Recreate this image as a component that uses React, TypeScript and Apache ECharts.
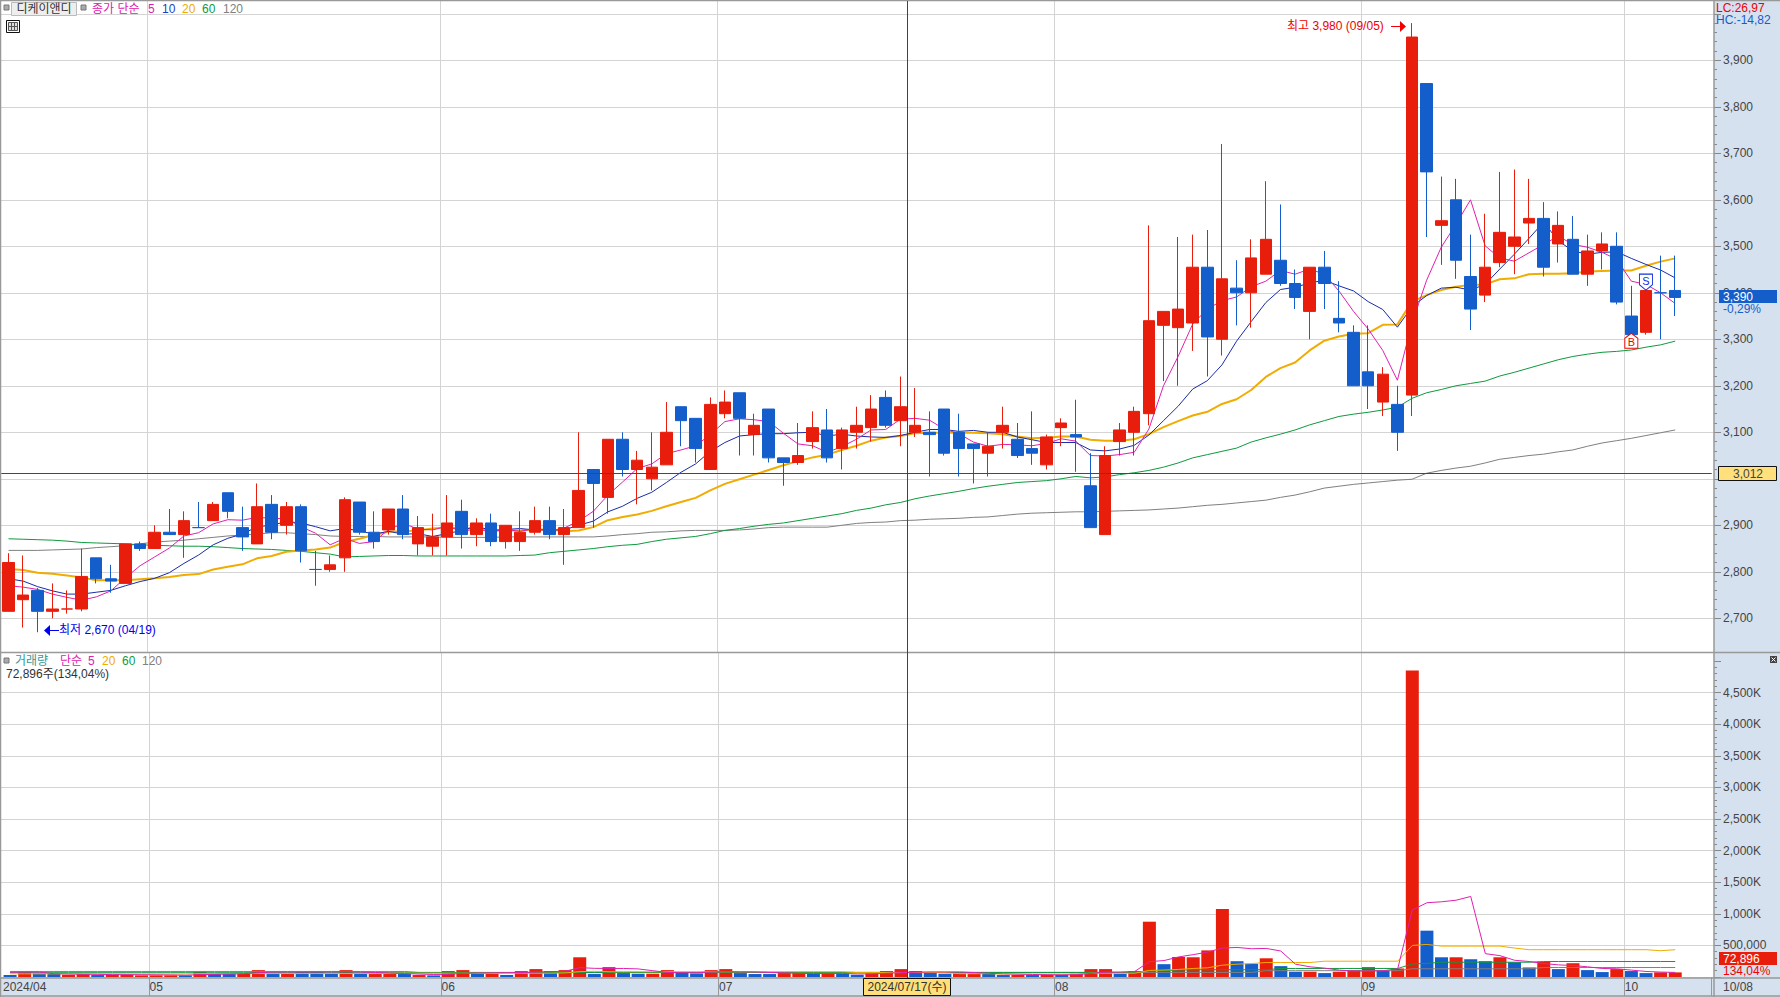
import React, { useEffect, useRef } from "react";
import * as echarts from "echarts";

const dates = [
  "04/17","04/18","04/19","04/22","04/23","04/24","04/25","04/26","04/29","04/30",
  "05/02","05/03","05/07","05/08","05/09","05/10","05/13","05/14","05/16","05/17",
  "05/20","05/21","05/22","05/23","05/24","05/27","05/28","05/29","05/30","05/31",
  "06/03","06/04","06/05","06/07","06/10","06/11","06/12","06/13","06/14","06/17",
  "06/18","06/19","06/20","06/21","06/24","06/25","06/26","06/27","06/28",
  "07/01","07/02","07/03","07/04","07/05","07/08","07/09","07/10","07/11","07/12",
  "07/15","07/16","07/17","07/18","07/19","07/22","07/23","07/24","07/25","07/26",
  "07/29","07/30","07/31",
  "08/01","08/02","08/05","08/06","08/07","08/08","08/09","08/12","08/13","08/14",
  "08/16","08/19","08/20","08/21","08/22","08/23","08/26","08/27","08/28","08/29","08/30",
  "09/02","09/03","09/04","09/05","09/06","09/09","09/10","09/11","09/12","09/13",
  "09/19","09/20","09/23","09/24","09/25","09/26","09/27","09/30",
  "10/02","10/04","10/07","10/08",
];
const trailingBlankSlots = ["", ""];

const opens = [
  2715,2740,2760,2715,2720,2720,2830,2785,2775,2860,
  2850,2885,2880,2895,2910,2970,2895,2860,2945,2900,
  2940,2805,2805,2830,2950,2885,2890,2935,2860,2855,
  2875,2930,2880,2905,2865,2865,2885,2910,2880,2895,
  3020,2960,3085,3020,3000,3030,3155,3130,3020,3140,
  3185,3095,3150,3045,3035,3080,3105,3065,3100,3110,
  3175,3125,3100,3100,3150,3100,3075,3055,3100,3085,
  3065,3030,3110,3095,2985,2880,3080,3100,3140,3330,
  3325,3335,3455,3300,3410,3400,3440,3470,3420,3360,
  3455,3345,3315,3230,3165,3160,3180,3850,3545,3600,
  3435,3395,3465,3500,3550,3560,3505,3515,3440,3490,
  3500,3350,3315,3400,3405,
];
const closes = [
  2820,2750,2715,2720,2720,2790,2785,2780,2860,2850,
  2885,2880,2910,2895,2945,2930,2875,2940,2885,2940,
  2845,2805,2815,2955,2885,2865,2935,2880,2895,2875,
  2905,2880,2905,2865,2900,2885,2910,2880,2895,2975,
  2990,3085,3020,3040,3025,3100,3125,3065,3160,3165,
  3130,3115,3045,3035,3050,3110,3045,3105,3115,3150,
  3115,3155,3115,3095,3055,3065,3065,3070,3115,3050,
  3055,3090,3120,3090,2895,3050,3105,3145,3340,3360,
  3365,3455,3305,3430,3400,3475,3515,3420,3390,3455,
  3420,3335,3200,3200,3225,3100,3950,3660,3555,3470,
  3365,3455,3530,3520,3560,3455,3545,3440,3490,3505,
  3380,3310,3405,3400,3390,
];
const lows = [
  2715,2680,2670,2700,2710,2715,2775,2755,2775,2845,
  2850,2880,2830,2895,2910,2915,2845,2860,2870,2880,
  2820,2770,2800,2800,2880,2850,2880,2870,2835,2835,
  2835,2850,2855,2855,2850,2845,2880,2870,2815,2895,
  2895,2925,3005,2945,2975,3030,3070,3035,3020,3130,
  3050,3050,3035,2985,3030,3065,3035,3020,3065,3080,
  3110,3070,3090,3005,3050,3005,2990,3005,3065,3045,
  3030,3020,3070,3015,2895,2880,3050,3050,3115,3210,
  3200,3275,3220,3265,3330,3325,3440,3415,3365,3300,
  3365,3315,3200,3150,3135,3060,3135,3520,3460,3430,
  3320,3380,3455,3440,3505,3435,3465,3440,3415,3450,
  3375,3310,3310,3300,3350,
];
const highs = [
  2840,2835,2765,2775,2760,2850,2830,2815,2860,2865,
  2900,2935,2930,2950,2950,2970,2940,2990,2965,2950,
  2945,2845,2835,2960,2950,2930,2935,2965,2920,2925,
  2965,2955,2915,2925,2900,2930,2940,2940,2935,3100,
  3020,3085,3100,3060,3100,3165,3155,3130,3175,3190,
  3185,3140,3150,3045,3120,3145,3150,3110,3155,3180,
  3190,3220,3195,3145,3150,3140,3075,3100,3155,3120,
  3145,3095,3130,3170,3055,3070,3120,3155,3545,3360,
  3520,3525,3535,3720,3470,3515,3640,3590,3450,3455,
  3490,3425,3330,3330,3240,3200,3980,3850,3650,3645,
  3525,3570,3660,3665,3645,3595,3575,3565,3525,3530,
  3530,3415,3405,3480,3480,
];

const priceMa5 = [
  2770,2767,2762,2752,2745,2739,2746,2759,2787,2813,
  2832,2851,2877,2884,2903,2912,2911,2917,2915,2914,
  2897,2883,2858,2872,2861,2865,2891,2904,2892,2890,
  2898,2887,2892,2886,2891,2887,2893,2888,2894,2909,
  2930,2965,2993,3022,3032,3054,3062,3071,3095,3123,
  3129,3127,3123,3098,3075,3071,3057,3069,3085,3105,
  3106,3128,3130,3126,3107,3097,3079,3070,3074,3073,
  3071,3076,3086,3081,3050,3049,3052,3057,3107,3200,
  3263,3333,3365,3383,3391,3413,3425,3448,3440,3451,
  3440,3404,3360,3322,3276,3212,3335,3427,3498,3547,
  3600,3501,3475,3468,3486,3504,3522,3504,3498,3487,
  3472,3425,3418,3400,3377,
];
const priceMa10 = [
  2785,2780,2768,2759,2752,2752,2756,2760,2770,2779,
  2786,2798,2818,2836,2858,2872,2881,2897,2900,2908,
  2905,2897,2888,2893,2888,2881,2887,2881,2882,2876,
  2882,2889,2898,2889,2891,2893,2890,2890,2890,2900,
  2909,2929,2941,2958,2971,2992,3014,3032,3059,3078,
  3092,3095,3097,3097,3099,3100,3092,3096,3092,3090,
  3089,3093,3100,3106,3106,3102,3104,3100,3100,3090,
  3084,3078,3078,3078,3062,3060,3064,3072,3094,3125,
  3156,3193,3211,3245,3296,3338,3379,3407,3412,3421,
  3427,3415,3404,3381,3364,3326,3370,3394,3410,3412,
  3406,3418,3451,3483,3517,3552,3512,3490,3483,3487,
  3488,3474,3461,3449,3432,
];
const priceMa20 = [
  2806,2804,2798,2796,2792,2788,2782,2782,2782,2784,
  2786,2789,2793,2795,2805,2811,2816,2829,2834,2843,
  2846,2848,2852,2864,2871,2879,2886,2887,2889,2893,
  2895,2893,2893,2889,2889,2889,2891,2891,2887,2889,
  2896,2911,2918,2923,2931,2941,2950,2959,2975,2989,
  2999,3009,3019,3029,3038,3046,3052,3062,3071,3082,
  3089,3092,3098,3099,3099,3099,3099,3098,3096,3091,
  3087,3088,3091,3091,3084,3082,3082,3085,3096,3111,
  3124,3136,3144,3161,3171,3191,3219,3238,3250,3276,
  3297,3306,3312,3313,3331,3332,3381,3395,3406,3413,
  3417,3418,3429,3431,3440,3441,3441,3442,3446,3447,
  3448,3448,3458,3467,3474,
];
const priceMa60 = [
  2871,2870,2869,2868,2866,2863,2862,2861,2860,2858,
  2857,2856,2855,2855,2854,2852,2850,2849,2848,2846,
  2844,2841,2838,2832,2833,2834,2835,2835,2834,2834,
  2834,2834,2834,2834,2834,2835,2836,2841,2844,2847,
  2850,2854,2857,2859,2865,2870,2873,2876,2882,2889,
  2893,2898,2902,2905,2910,2915,2920,2925,2932,2937,
  2944,2949,2957,2963,2968,2973,2979,2984,2988,2992,
  2994,2996,3000,3005,3002,3004,3009,3013,3018,3025,
  3034,3045,3052,3059,3066,3079,3088,3096,3105,3116,
  3125,3134,3139,3143,3148,3154,3173,3185,3192,3200,
  3205,3210,3221,3229,3238,3247,3256,3263,3268,3272,
  3274,3277,3283,3288,3296,
];
const priceMa120 = [
  2846,2846,2846,2847,2848,2849,2852,2854,2856,2860,
  2864,2866,2868,2871,2874,2877,2879,2881,2884,2884,
  2882,2880,2877,2876,2876,2876,2875,2875,2875,2875,
  2874,2874,2874,2874,2875,2875,2875,2875,2875,2875,
  2875,2877,2880,2882,2885,2886,2888,2889,2889,2889,
  2890,2892,2895,2896,2896,2896,2896,2900,2904,2906,
  2907,2910,2911,2913,2914,2915,2917,2918,2921,2924,
  2926,2927,2928,2929,2929,2930,2931,2932,2933,2935,
  2937,2940,2943,2945,2948,2951,2954,2960,2965,2972,
  2980,2984,2988,2991,2994,2997,2999,3012,3018,3023,
  3027,3034,3042,3046,3050,3053,3058,3062,3070,3077,
  3082,3087,3093,3099,3105,
];

const volumesK = [
  31,88,57,52,36,47,31,36,36,26,
  26,26,26,88,47,47,52,109,47,52,
  83,83,52,109,52,47,47,47,31,26,
  94,109,52,52,31,94,125,94,109,312,
  47,156,62,52,52,109,68,57,109,125,
  62,47,47,62,62,52,52,52,36,57,
  94,125,94,68,52,57,57,52,31,31,
  31,36,36,52,125,125,52,94,875,203,
  317,312,421,1076,250,208,296,172,83,83,
  62,83,109,156,104,135,4850,733,312,312,
  281,250,312,234,151,239,125,218,109,78,
  125,94,62,73,72.896,
];
const volumeColours =
  "brbbrrbrrr" + "rrbrbbrrbr" + "bbbrbrrbrb" + "rrbrbrrbrr" +
  "brbbrrbbrr" + "bbbrrbrbbr" + "rrbbbrrbbr" + "brbrrrbrrb" +
  "rrrrbbrbbr" + "brrrbrrbbr" + "bbrbbrbrbb" + "rbbrr";

const volMa5K = [
  75,78,78,52,48,44,42,38,37,36,
  34,32,28,37,42,47,52,68,78,80,
  78,80,80,84,78,72,62,55,46,40,
  42,58,62,65,68,70,78,86,90,148,
  137,135,135,128,100,72,68,68,78,85,
  82,80,72,65,56,55,55,56,50,50,
  58,70,75,80,80,80,70,58,50,45,
  40,36,34,36,56,76,78,88,243,260,
  317,354,395,458,468,447,452,411,203,161,
  140,109,94,94,99,130,1060,1175,1190,1215,
  1274,369,338,265,245,213,192,182,161,135,
  130,109,88,78,73,
];
const volMa20K = [
  50,50,50,50,50,50,50,50,47,47,
  47,47,47,55,55,55,55,55,55,55,
  55,55,55,55,55,55,60,60,60,60,
  60,60,60,60,60,60,60,60,65,85,
  90,83,83,83,83,83,83,83,83,83,
  83,83,83,83,83,83,83,83,70,70,
  70,70,70,70,70,52,52,52,47,47,
  47,47,47,47,60,60,60,60,104,110,
  120,135,146,187,203,213,229,229,229,229,
  250,250,250,250,250,250,499,515,489,489,
  489,489,489,458,432,432,432,432,432,432,
  432,432,432,416,432,
];
const volMa60K = [
  68,68,68,68,68,68,68,68,68,68,
  68,68,68,68,68,68,68,68,68,68,
  68,68,68,68,68,68,68,68,68,68,
  70,70,70,70,70,70,70,70,70,70,
  72,72,72,72,72,72,72,72,72,72,
  72,72,72,72,72,72,72,72,72,72,
  72,72,72,72,72,72,72,72,72,72,
  72,72,72,72,72,72,72,74,95,100,
  110,115,115,115,115,115,115,135,135,135,
  135,135,135,135,135,135,205,215,234,234,
  234,234,234,234,234,245,245,245,245,245,
  245,245,245,245,245,
];
const volMa120K = [
  88,88,88,88,88,88,88,88,88,88,
  88,88,88,88,88,88,88,88,88,88,
  88,88,88,88,88,88,88,88,73,73,
  73,73,73,73,73,73,73,73,73,73,
  73,73,73,73,73,73,73,73,73,73,
  73,73,73,73,73,73,73,73,73,73,
  73,73,73,73,73,73,73,73,73,73,
  73,73,73,73,73,73,73,73,73,73,
  73,73,73,73,73,73,100,100,100,100,
  100,100,100,100,100,100,130,130,130,130,
  130,130,130,130,130,150,150,150,150,150,
  150,150,150,150,150,
];

const monthStarts = [10, 30, 49, 72, 93, 111];
const monthLabels: Record<number, string> = { 1: "2024/04", 10: "05", 30: "06", 49: "07", 72: "08", 93: "09", 111: "10" };
const priceTicksStep = 100;
const volumeTicksStep = 500000;
const baseLine = 3012;
const hiddenPriceLabels = [3000, 4000];

const RED = "#e91d0b";
const BLUE = "#135ecb";
const C_MA5 = "#e020b0";
const C_MA10 = "#1a2ca8";
const C_MA20 = "#f0ac00";
const C_MA60 = "#0e9a3e";
const C_MA120 = "#808080";
const PANEL = "#d6e1ef";
const EDGE = "#999999";
const GRID = "#d4d4d4";
const TEXT = "#444444";
const FONT = "'Liberation Sans','Noto Sans CJK KR',sans-serif";

const text = (x: number, y: number, s: string, fill: string, size = 12, align = "left", z = 60) => ({
  type: "text", x, y, z, silent: true,
  style: { text: s, fill, font: `${size}px ${FONT}`, align, verticalAlign: "middle" },
});
const rect = (x: number, y: number, width: number, height: number, fill: string, stroke?: string, z = 55) => ({
  type: "rect", z, silent: true, shape: { x, y, width, height },
  style: { fill, stroke: stroke || "none", lineWidth: stroke ? 1 : 0 },
});
const seg = (x1: number, y1: number, x2: number, y2: number, stroke: string, z = 45, lineWidth = 1) => ({
  type: "line", z, silent: true, shape: { x1, y1, x2, y2 }, style: { stroke, lineWidth },
});

const overlays: any[] = [
  rect(1714, 0, 66, 997, PANEL, undefined, -10),
  rect(0, 978, 1714, 19, PANEL, undefined, -10),
  rect(0, 0, 1714, 978, "#ffffff", undefined, -11),
  seg(0.5, 0, 0.5, 997, EDGE, 44, 1.5),
  seg(0, 0.5, 1780, 0.5, EDGE, 44, 1.5),
  seg(1714, 0, 1714, 997, EDGE, 44, 1.5),
  seg(0, 652.5, 1780, 652.5, EDGE, 44, 1.5),
  seg(0, 978, 1780, 978, EDGE, 44, 1.5),
  seg(0, 996, 1780, 996, EDGE, 44, 1.5),
  seg(907.5, 1, 907.5, 978, "#e00000", 46),

  rect(4, 5, 5, 5, "#aaaaaa", "#777777"),
  rect(11.5, 2.5, 65, 13, "#eeeeee", "#bbbbbb"),
  text(44, 9, "디케이앤디", "#333333", 12, "center"),
  rect(81, 5, 5, 5, "#aaaaaa", "#777777"),
  text(92, 9, "종가 단순", C_MA5),
  text(148, 9, "5", C_MA5),
  text(162, 9, "10", "#1a3fc0"),
  text(182, 9, "20", C_MA20),
  text(202, 9, "60", C_MA60),
  text(223, 9, "120", C_MA120),

  rect(6.5, 20.5, 13, 12, "#ffffff", "#111111"),
  rect(8.5, 22.5, 9, 8, "#dddddd", "#555555"),
  seg(11.5, 22, 11.5, 31, "#555555", 56),
  seg(14.5, 22, 14.5, 31, "#555555", 56),
  seg(8, 26.5, 18, 26.5, "#555555", 56),

  text(1287, 26, "최고 3,980 (09/05)", "#f00000"),
  seg(1391, 26.5, 1401, 26.5, "#f00000"),
  { type: "polygon", z: 50, silent: true, shape: { points: [[1400, 21], [1406, 26.5], [1400, 32]] }, style: { fill: "#f00000" } },

  { type: "polygon", z: 50, silent: true, shape: { points: [[50, 625], [44, 630.5], [50, 636]] }, style: { fill: "#0000f0" } },
  seg(49, 630.5, 59, 630.5, "#0000f0"),
  text(59, 630, "최저 2,670 (04/19)", "#0000f0"),

  text(1716, 8, "LC:26,97", "#f00000"),
  text(1716, 20, "HC:-14,82", BLUE),

  rect(1719, 290, 58, 13, BLUE),
  text(1723, 296.5, "3,390", "#ffffff", 12),
  text(1723, 308.5, "-0,29%", BLUE),
  rect(1718.5, 466.5, 58, 14, "#ffe07c", "#111111"),
  text(1748, 473.5, "3,012", "#444444", 12, "center"),

  rect(4, 658, 5, 5, "#aaaaaa", "#777777"),
  text(15, 661, "거래량", "#2f9a9a"),
  text(60, 661, "단순", C_MA5),
  text(88, 661, "5", C_MA5),
  text(102, 661, "20", C_MA20),
  text(122, 661, "60", C_MA60),
  text(142, 661, "120", C_MA120),
  text(6, 674, "72,896주(134,04%)", "#333333"),
  rect(1770, 656, 7, 7, "#444444"),
  seg(1771.5, 657.5, 1775.5, 661.5, "#ffffff", 56),
  seg(1775.5, 657.5, 1771.5, 661.5, "#ffffff", 56),

  rect(1719, 952, 58, 13, RED),
  text(1723, 958.5, "72,896", "#ffffff", 12),
  text(1723, 971, "134,04%", "#f00000"),

  rect(863.5, 978.5, 87, 17, "#ffdf78", "#111111"),
  text(907, 987, "2024/07/17(수)", "#333333", 12, "center"),
  text(1723, 987, "10/08", TEXT),
];

const priceAxisLabel = (v: number) => (hiddenPriceLabels.includes(v) ? "" : v.toLocaleString("en-US"));
const volumeAxisLabel = (v: number) => {
  if (v <= 0 || v >= 5000000) return "";
  return v < 1000000 ? v.toLocaleString("en-US") : `${(v / 1000).toLocaleString("en-US")}K`;
};
const isMonthStart = (i: number) => monthStarts.includes(i);

const labelledY = (gridIndex: number, min: number, max: number, interval: number, formatter: any) => ({
  type: "value", gridIndex, min, max, interval, position: "right",
  axisLine: { show: false, onZero: false },
  axisTick: { show: true, length: 7, lineStyle: { color: "#888888" } },
  minorTick: { show: true, splitNumber: 5, length: 3, lineStyle: { color: "#888888" } },
  axisLabel: { margin: 9, color: TEXT, fontSize: 12, fontFamily: FONT, formatter },
  splitLine: { show: true, showMaxLine: gridIndex === 0, lineStyle: { color: GRID, width: 1 } },
});
const dummyX = (gridIndex: number) => ({ type: "value", gridIndex, min: 0, max: 1, show: false });
const hiddenY = (gridIndex: number, min: number, max: number) => ({
  type: "value", gridIndex, min, max, show: false, splitLine: { show: false },
});
const categoryX = (gridIndex: number, withLabels: boolean) => ({
  type: "category", gridIndex, data: [...dates, ...trailingBlankSlots], boundaryGap: true,
  axisLine: { show: false },
  axisTick: withLabels
    ? { show: true, interval: isMonthStart, length: 19, lineStyle: { color: EDGE, width: 1 } }
    : { show: false },
  axisLabel: withLabels
    ? {
        show: true, interval: (i: number) => monthLabels[i] !== undefined, margin: 4,
        color: TEXT, fontSize: 12, fontFamily: FONT,
        formatter: (_: string, i: number) => monthLabels[i] ?? "",
      }
    : { show: false },
  splitLine: { show: true, interval: isMonthStart, showMaxLine: false, lineStyle: { color: GRID, width: 1 } },
});
const maLine = (name: string, data: number[], color: string, width: number, axis: number, z = 1) => ({
  name, type: "line", xAxisIndex: axis, yAxisIndex: axis, data, symbol: "none", silent: true, z,
  lineStyle: { color, width }, itemStyle: { color }, clip: false,
});
const toVolume = (list: number[]) => list.map((k) => k * 1000);

export default function App() {
  const ref = useRef<HTMLDivElement>(null);
  useEffect(() => {
    document.body.style.margin = "0";
    document.body.style.background = "#ffffff";
    const chart = echarts.init(ref.current!, undefined, { renderer: "svg" });
    chart.setOption({
      animation: false,
      backgroundColor: "#ffffff",
      graphic: { elements: overlays },
      grid: [
        { left: 0, width: 1714, top: 13.8, height: 604.5, show: false },
        { left: 0, width: 1714, top: 661, height: 316, show: false },
        { left: 1.19, width: 1710.54, top: 1, height: 651, show: false },
        { left: 1.19, width: 1710.54, top: 653, height: 324, show: false },
      ],
      xAxis: [dummyX(0), dummyX(1), categoryX(2, false), categoryX(3, true)],
      yAxis: [
        labelledY(0, 2700, 4000, priceTicksStep, priceAxisLabel),
        labelledY(1, 0, 5000000, volumeTicksStep, volumeAxisLabel),
        hiddenY(2, 2627.5, 4027.5),
        hiddenY(3, 0, 5126582),
      ],
      series: [
        maLine("MA120", priceMa120, C_MA120, 1, 2),
        maLine("MA60", priceMa60, C_MA60, 1, 2),
        maLine("MA20", priceMa20, C_MA20, 2, 2),
        maLine("MA10", priceMa10, C_MA10, 1, 2),
        maLine("MA5", priceMa5, C_MA5, 1, 2),
        {
          name: "디케이앤디", type: "candlestick", xAxisIndex: 2, yAxisIndex: 2, z: 3, clip: false, silent: true,
          barWidth: 12,
          data: dates.map((_, i) => [opens[i], closes[i], lows[i], highs[i]]),
          itemStyle: { color: RED, color0: BLUE, borderColor: RED, borderColor0: BLUE, borderWidth: 1 },
          markLine: {
            silent: true, symbol: "none", animation: false, label: { show: false },
            lineStyle: { color: "#f00000", width: 1, type: "solid" },
            data: [{ yAxis: baseLine }],
          },
          markPoint: {
            silent: true, animation: false,
            data: [
              {
                coord: [111, 3297], symbol: "path://M6 0L12 5V15H0V5Z", symbolSize: [13, 15],
                itemStyle: { color: "#ffffff", borderColor: "#f00000", borderWidth: 1 },
                label: { show: true, formatter: "B", color: "#f00000", fontSize: 11, fontFamily: FONT, position: "inside", offset: [0, 1] },
              },
              {
                coord: [112, 3423], symbol: "path://M0 0H12V10L6 15L0 10Z", symbolSize: [13, 16],
                itemStyle: { color: "#ffffff", borderColor: "#1030e0", borderWidth: 1 },
                label: { show: true, formatter: "S", color: "#1030e0", fontSize: 11, fontFamily: FONT, position: "inside", offset: [0, -1] },
              },
            ],
          },
        },
        {
          name: "거래량", type: "bar", xAxisIndex: 3, yAxisIndex: 3, barWidth: 13, z: 2, silent: true,
          data: volumesK.map((k, i) => ({
            value: k * 1000,
            itemStyle: { color: volumeColours[i] === "r" ? RED : BLUE },
          })),
        },
        maLine("VOL120", toVolume(volMa120K), C_MA120, 1, 3, 4),
        maLine("VOL60", toVolume(volMa60K), C_MA60, 1, 3, 4),
        maLine("VOL20", toVolume(volMa20K), C_MA20, 1, 3, 4),
        maLine("VOL5", toVolume(volMa5K), C_MA5, 1, 3, 5),
      ],
    });
    return () => chart.dispose();
  }, []);
  return <div ref={ref} style={{ position: "absolute", left: 0, top: 0, width: 1780, height: 997 }} />;
}
